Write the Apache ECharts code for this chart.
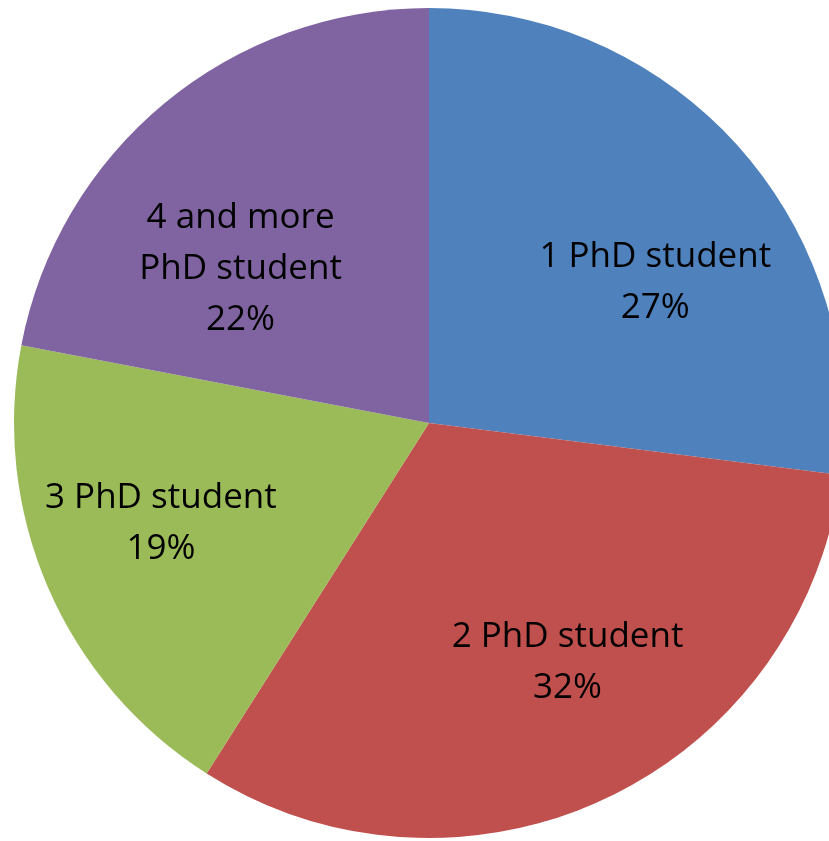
<!DOCTYPE html>
<html>
<head>
    <meta charset="UTF-8">
    <style>
        html, body { margin: 0; padding: 0; background: #fff; }
        #chart { width: 829px; height: 841px; }
    </style>
</head>
<body>
<div id="chart"></div>
<script src="https://cdn.jsdelivr.net/npm/echarts@6/dist/echarts.min.js"></script>
<script>
    var categories = ['1 PhD student', '2 PhD student', '3 PhD student', '4 and more\nPhD student'];
    var shares = [27, 32, 19, 22];
    var colors = ['#4F81BD', '#C0504D', '#9BBB59', '#8064A2'];

    var cx = 429, cy = 423;
    // small nudges so labels sit where the original placed them
    var nudge = [[21, 40], [22, -8], [-17, -8], [-14, 57]];

    var chart = echarts.init(document.getElementById('chart'));
    chart.setOption({
        animation: false,
        series: [{
            type: 'pie',
            center: [cx, cy],
            radius: [0, 415],
            startAngle: 90,
            clockwise: true,
            silent: true,
            data: categories.map(function (name, i) {
                return { name: name, value: shares[i], itemStyle: { color: colors[i] } };
            }),
            label: {
                position: 'inside',
                formatter: '{b}\n{d}%',
                color: '#000',
                fontFamily: 'Open Sans',
                fontSize: 35,
                lineHeight: 51
            },
            labelLine: { show: false },
            labelLayout: function (p) {
                var r = p.labelRect;
                var lx = r.x + r.width / 2, ly = r.y + r.height / 2;
                var n = nudge[p.dataIndex];
                return {
                    x: cx + (lx - cx) * 1.3 + n[0],
                    y: cy + (ly - cy) * 1.3 + n[1]
                };
            }
        }]
    });
</script>
</body>
</html>
